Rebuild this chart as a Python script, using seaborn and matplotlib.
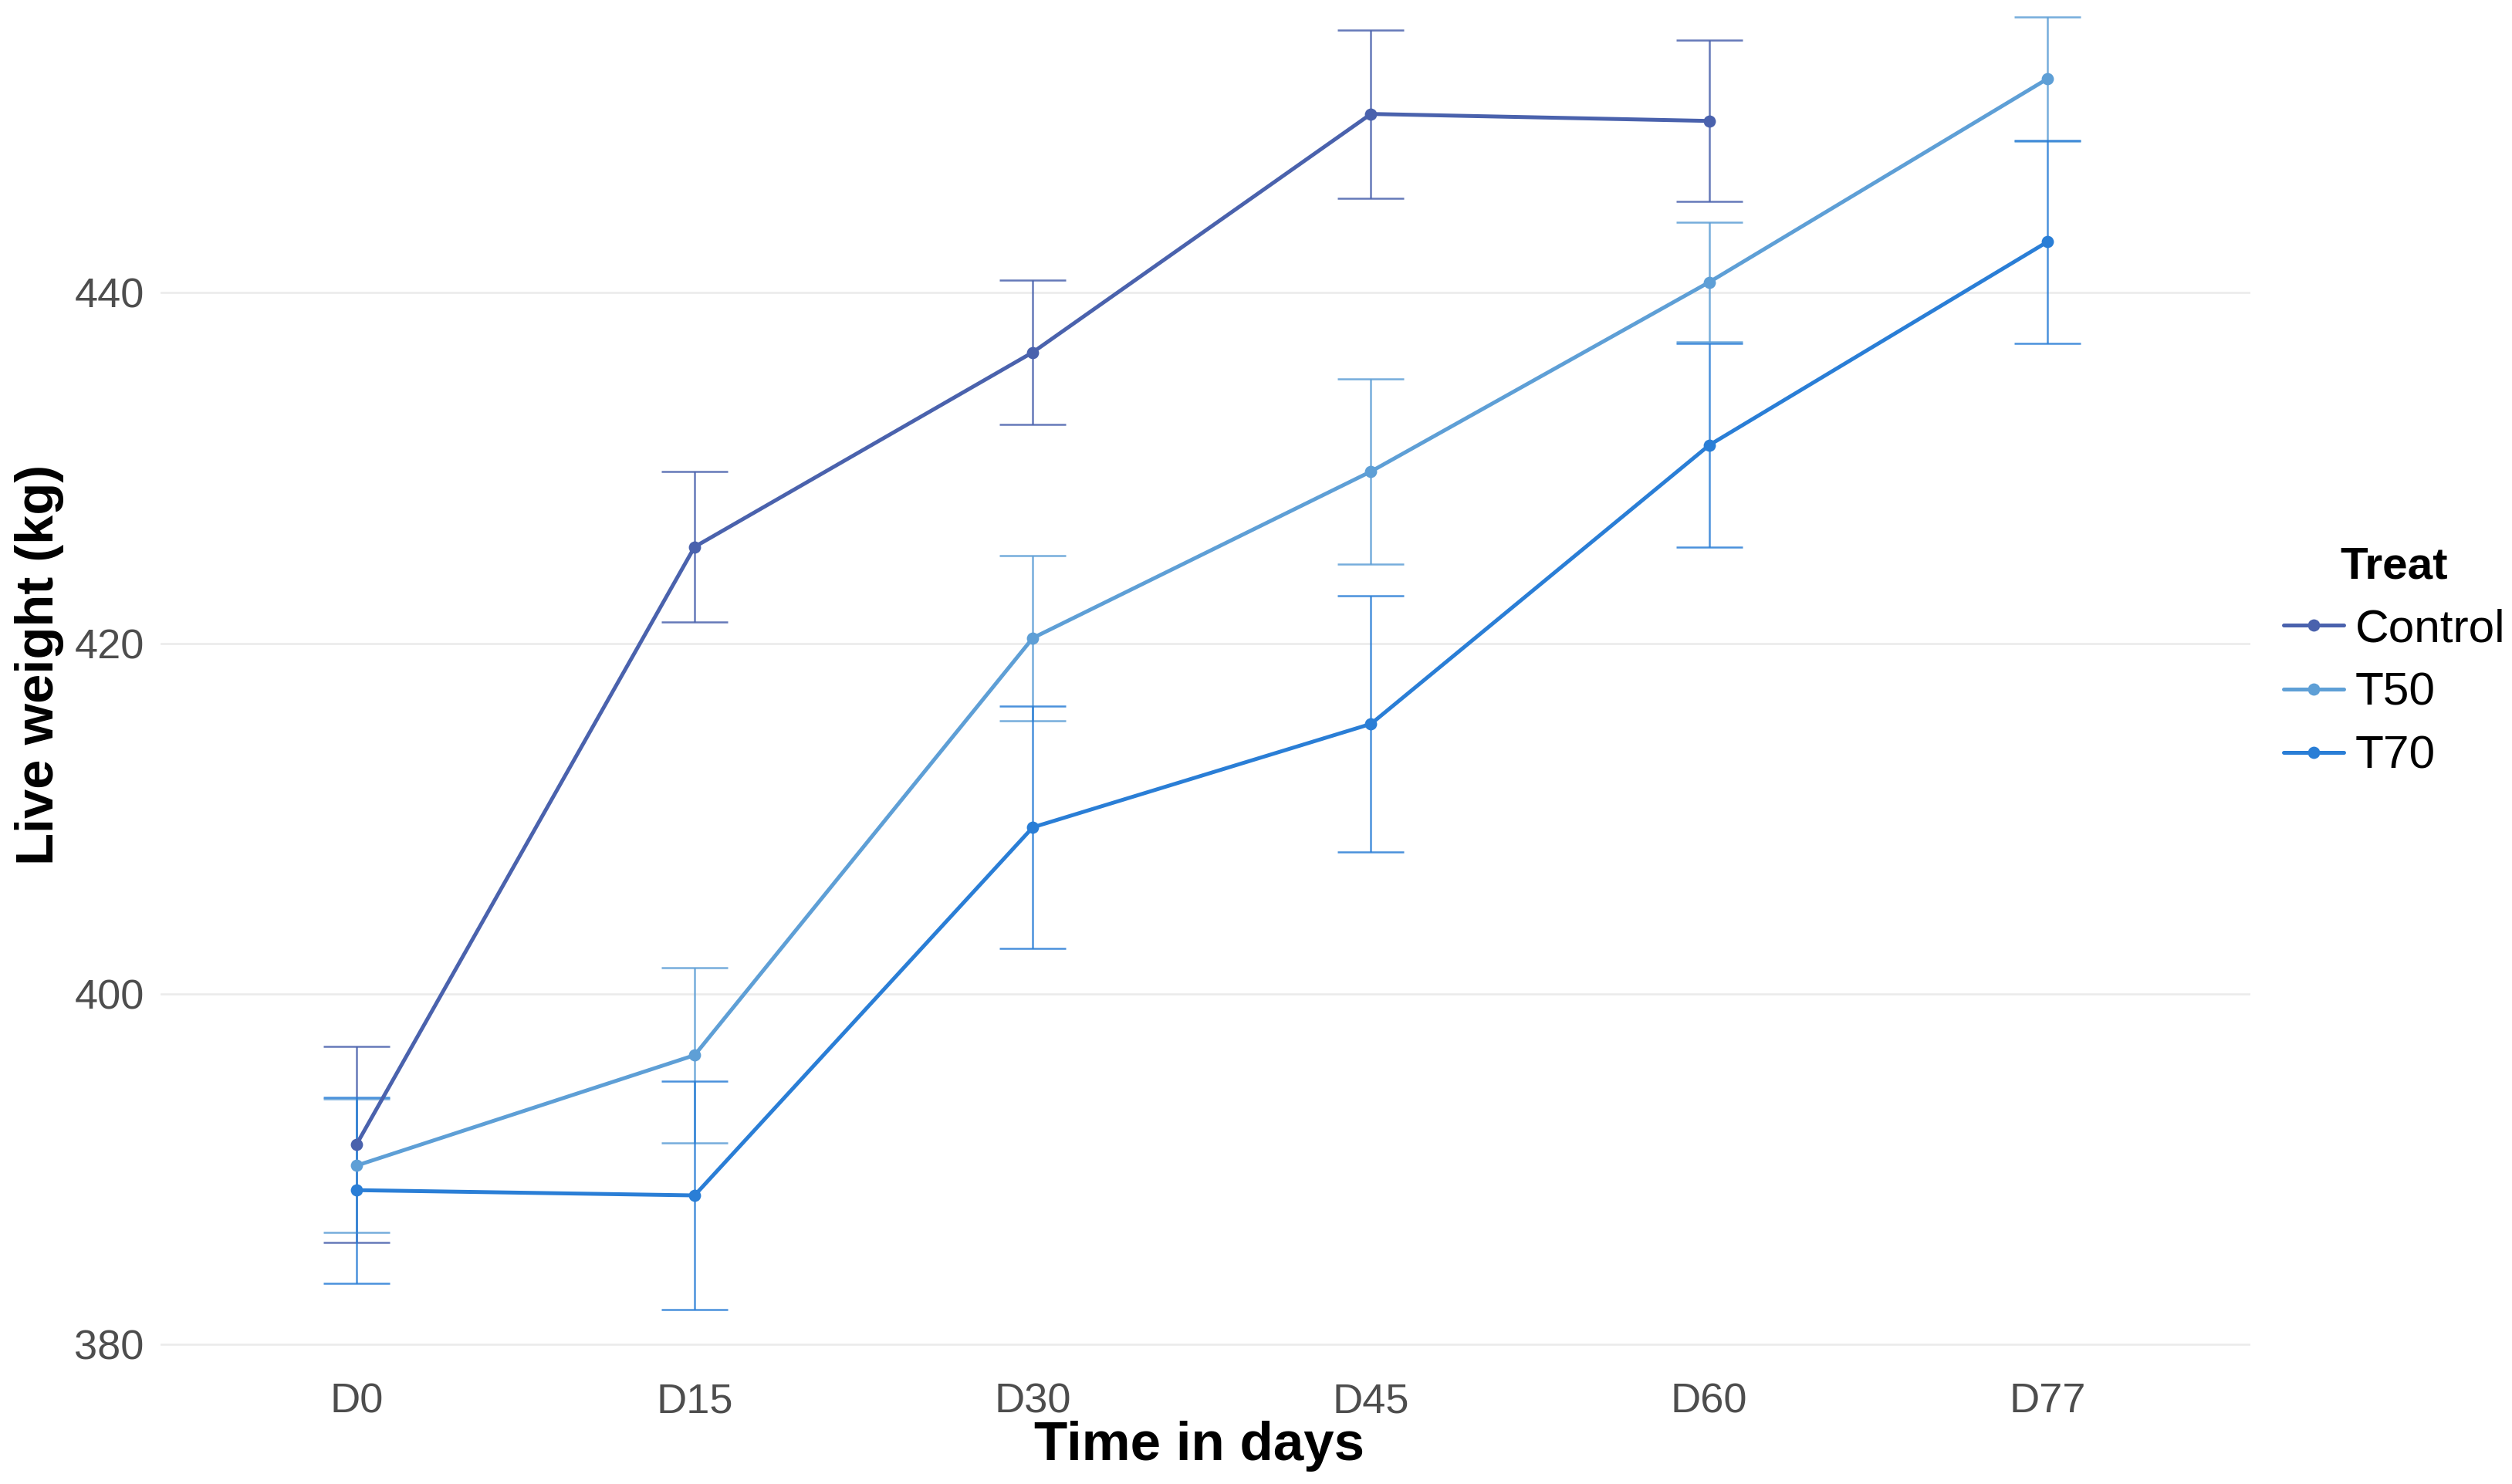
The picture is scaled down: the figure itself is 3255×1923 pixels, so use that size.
import numpy as np
import pandas as pd
import matplotlib
matplotlib.use("Agg")
import matplotlib.pyplot as plt
import seaborn as sns

# Data (mean and standard error per day)
days = ["D0", "D15", "D30", "D45", "D60", "D77"]
treats = ["Control", "T50", "T70"]
control_mean = [391.4, 425.5, 436.6, 450.2, 449.8, np.nan]
control_se = [5.6, 4.3, 4.1, 4.8, 4.6, np.nan]
t50_mean = [390.2, 396.5, 420.3, 429.8, 440.6, 452.2]
t50_se = [3.8, 5.0, 4.7, 5.3, 3.4, 3.55]
t70_mean = [388.8, 388.5, 409.5, 415.4, 431.3, 442.9]
t70_se = [5.3, 6.5, 6.9, 7.3, 5.8, 5.8]
colors = {"Control": "#4a62ad", "T50": "#5e9fd6", "T70": "#2a7ed6"}

means = {"Control": control_mean, "T50": t50_mean, "T70": t70_mean}
ses = {"Control": control_se, "T50": t50_se, "T70": t70_se}
rows = []
for t in treats:
    for i, d in enumerate(days):
        rows.append({"Treat": t, "pos": i, "Day": d, "mean": means[t][i], "se": ses[t][i]})
df = pd.DataFrame(rows).dropna()

sns.set_style("white")
plt.rcParams["font.family"] = ["Liberation Sans", "DejaVu Sans"]

fig = plt.figure(figsize=(10.85, 6.41), dpi=300)
ax = fig.add_axes([0.0638, 0.074, 0.832, 0.926])

# error bars under the lines
for t in treats:
    sub = df[df["Treat"] == t]
    ax.errorbar(sub["pos"], sub["mean"], yerr=sub["se"], fmt="none",
                ecolor=colors[t], elinewidth=0.6, capsize=10.4, capthick=0.6,
                alpha=0.85, zorder=2)

sns.lineplot(data=df, x="pos", y="mean", hue="Treat", hue_order=treats,
             palette=colors, marker="o", markersize=3.8, markeredgewidth=0,
             linewidth=1.2, ax=ax, zorder=3)

ax.set_xlim(-0.58, 5.6)
ax.set_ylim(378.3, 456.7)
ax.set_xticks(range(len(days)))
ax.set_xticklabels(days)
ax.set_yticks([380, 400, 420, 440])
ax.tick_params(axis="both", length=0, labelsize=13, labelcolor="#4d4d4d")
ax.tick_params(axis="x", pad=2.5)
ax.tick_params(axis="y", pad=5)
ax.grid(axis="y", color="#ebebeb", linewidth=0.6)
ax.grid(axis="x", visible=False)
ax.set_axisbelow(True)
for s in ax.spines.values():
    s.set_visible(False)

ax.set_xlabel("Time in days", fontsize=17, fontweight="bold", color="black")
ax.set_ylabel("Live weight (kg)", fontsize=16.5, fontweight="bold", color="black")
ax.xaxis.set_label_coords(0.497, -0.034)
ax.yaxis.set_label_coords(-0.046, 0.516)

handles, labels = ax.get_legend_handles_labels()
leg = ax.legend(handles, labels, title="Treat", loc="center left",
                bbox_to_anchor=(0.909, 0.554), bbox_transform=fig.transFigure,
                frameon=False, fontsize=14.5, borderpad=0, borderaxespad=0,
                handlelength=1.3, handletextpad=0.24, labelspacing=0.45,
                title_fontproperties={"weight": "bold", "size": 14})
for txt in leg.get_texts():
    txt.set_color("black")
leg.get_title().set_color("black")

fig.savefig("out.png", dpi=300)
